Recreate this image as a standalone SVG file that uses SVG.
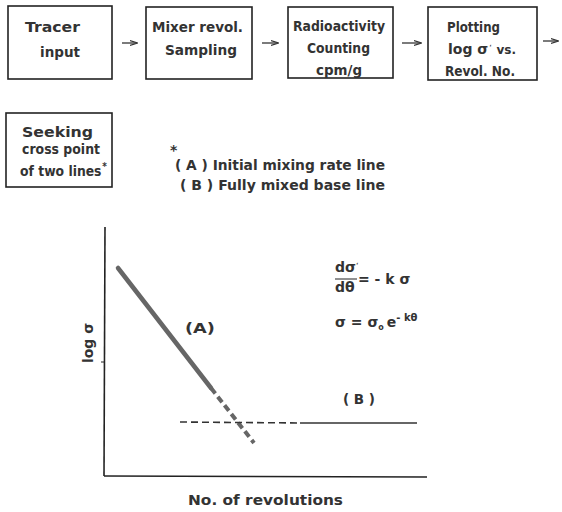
<svg xmlns="http://www.w3.org/2000/svg" width="562" height="512" viewBox="0 0 562 512">
<style>
.box{fill:#fff;stroke:#222;stroke-width:1.6}
.t{font-family:"DejaVu Sans",sans-serif;font-size:14px;font-weight:bold;fill:#333}
.c{stroke:#333;stroke-width:1.3;fill:none}
</style>
<defs>
<marker id="ah" viewBox="0 0 10 10" refX="9" refY="5" markerWidth="6" markerHeight="6" orient="auto"><path d="M0,2 L10,5 L0,8" fill="none" stroke="#333" stroke-width="1.5"/></marker>
</defs>
<rect width="562" height="512" fill="#fff"/>
<g id="n1"><rect class="box" x="8" y="6" width="104" height="73"/><text class="t" x="25" y="32" font-size="15" textLength="55" lengthAdjust="spacingAndGlyphs">Tracer</text><text class="t" x="40" y="57" textLength="40" lengthAdjust="spacingAndGlyphs">input</text></g>
<g id="n2"><rect class="box" x="146" y="7" width="106" height="72"/><text class="t" x="152" y="32" textLength="91" lengthAdjust="spacingAndGlyphs">Mixer revol.</text><text class="t" x="165" y="55" textLength="72" lengthAdjust="spacingAndGlyphs">Sampling</text></g>
<g id="n3"><rect class="box" x="288" y="7" width="105" height="71"/><text class="t" x="293" y="31" textLength="92" lengthAdjust="spacingAndGlyphs">Radioactivity</text><text class="t" x="307" y="53" textLength="63" lengthAdjust="spacingAndGlyphs">Counting</text><text class="t" x="316" y="75" textLength="46" lengthAdjust="spacingAndGlyphs">cpm/g</text></g>
<g id="n4"><rect class="box" x="428" y="7" width="109" height="73"/><text class="t" x="447" y="32" textLength="53" lengthAdjust="spacingAndGlyphs">Plotting</text><text class="t" x="448" y="54">log σ<tspan dx="1" dy="-5" font-size="6">‘</tspan><tspan dx="5" dy="5" font-size="12">vs.</tspan></text><text class="t" x="445" y="76" textLength="70" lengthAdjust="spacingAndGlyphs">Revol. No.</text></g>
<g id="n5"><rect class="box" x="6" y="113" width="106" height="74"/><text class="t" x="22" y="137" font-size="15" textLength="71" lengthAdjust="spacingAndGlyphs">Seeking</text><text class="t" x="22" y="154" font-size="11.2" textLength="78" lengthAdjust="spacingAndGlyphs">cross point</text><text class="t" x="20" y="176" font-size="13" textLength="87" lengthAdjust="spacingAndGlyphs">of two lines<tspan dx="1" dy="-6" font-size="10">*</tspan></text></g>
<g id="connectors">
<line class="c" x1="122" y1="43" x2="137" y2="43" marker-end="url(#ah)"/>
<line class="c" x1="262" y1="43" x2="278" y2="43" marker-end="url(#ah)"/>
<line class="c" x1="402" y1="43" x2="421" y2="43" marker-end="url(#ah)"/>
<line class="c" x1="543" y1="41" x2="558" y2="41" marker-end="url(#ah)"/>
</g>
<g id="legend">
<text class="t" x="170" y="155" font-size="9">*</text>
<text class="t" x="175" y="170" textLength="210" lengthAdjust="spacingAndGlyphs">( A )  Initial mixing rate line</text>
<text class="t" x="180" y="190" textLength="205" lengthAdjust="spacingAndGlyphs">( B )  Fully mixed base line</text>
</g>
<g id="chart">
<line x1="105" y1="227" x2="104" y2="476" stroke="#222" stroke-width="1.6"/>
<line x1="104" y1="476" x2="427" y2="477" stroke="#222" stroke-width="1.6"/>
<line x1="101" y1="362" x2="104" y2="362" stroke="#222" stroke-width="1"/>
<line x1="118" y1="268" x2="211" y2="388" stroke="#666" stroke-width="4.5" stroke-linecap="round"/>
<line x1="211" y1="388" x2="254" y2="443" stroke="#666" stroke-width="4" stroke-dasharray="7,4"/>
<line x1="180" y1="422" x2="300" y2="423" stroke="#333" stroke-width="1.6" stroke-dasharray="7,4"/>
<line x1="300" y1="423" x2="417" y2="423" stroke="#333" stroke-width="1.6"/>
<text class="t" x="185" y="333" font-size="14" textLength="30" lengthAdjust="spacingAndGlyphs">(A)</text>
<text class="t" x="343" y="404" font-size="14" textLength="32" lengthAdjust="spacingAndGlyphs">( B )</text>
<text class="t" x="335" y="272" font-size="13">dσ<tspan font-size="6" dy="-5">‘</tspan></text>
<line x1="335" y1="279" x2="357" y2="279" stroke="#222" stroke-width="1"/>
<text class="t" x="335" y="292" font-size="13">dθ</text>
<text class="t" x="358" y="284" font-size="11">= - k σ</text>
<text class="t" x="335" y="327" font-size="13">σ = σ<tspan font-size="8" dy="3">o</tspan><tspan dy="-3" dx="3">e</tspan><tspan font-size="10" dy="-6">- kθ</tspan></text>
<text class="t" transform="translate(93,343) rotate(-90)" text-anchor="middle" font-size="15">log σ</text>
<text class="t" x="188" y="505" textLength="155" lengthAdjust="spacingAndGlyphs">No. of revolutions</text>
</g>
</svg>
